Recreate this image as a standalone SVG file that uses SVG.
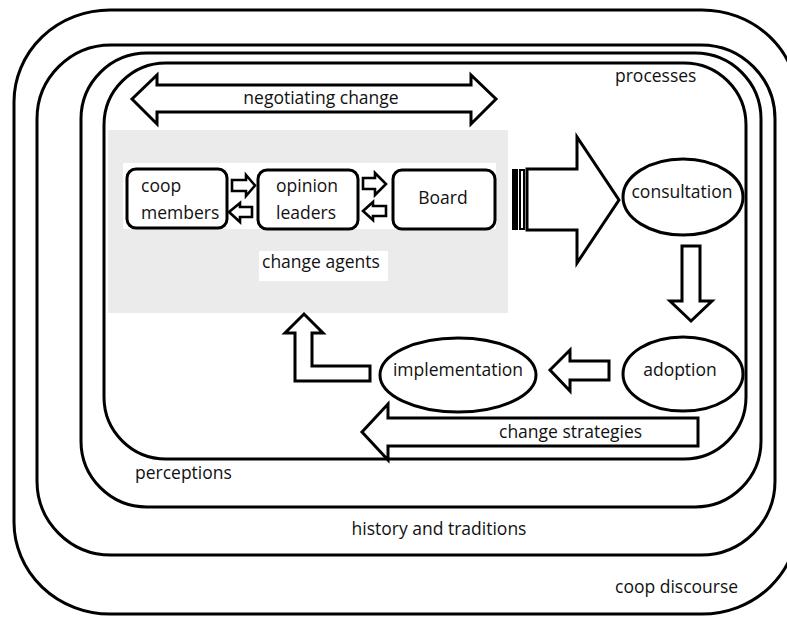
<svg xmlns="http://www.w3.org/2000/svg" width="787" height="617" viewBox="0 0 787 617">
<style>
.frame{fill:none;stroke:#000;stroke-width:3}
.box{fill:#fff;stroke:#000;stroke-width:3}
.arr{fill:#fff;stroke:#000;stroke-width:3;stroke-linejoin:miter}
.sarr{fill:#fff;stroke:#000;stroke-width:2.6;stroke-linejoin:miter}
text{font-family:"Open Sans","Liberation Sans",sans-serif;font-size:17.5px;fill:#111}
.m{text-anchor:middle}
</style>
<rect width="787" height="617" fill="#fff"/>
<g id="frames">
<rect id="coop-discourse" class="frame" x="14" y="10" width="784" height="604" rx="96" ry="92"/>
<rect id="history" class="frame" x="37" y="45" width="738" height="510" rx="74"/>
<rect id="perceptions" class="frame" x="81" y="53" width="680" height="454" rx="66"/>
<rect id="processes" class="frame" x="104" y="63" width="642" height="396" rx="62"/>
</g>
<g id="change-agents">
<rect x="108" y="130" width="400" height="183" fill="#ebebeb"/>
<rect x="123" y="163" width="373" height="66" fill="#fff"/>
<rect x="259" y="251" width="129" height="30" fill="#fff"/>
<text x="262" y="268">change agents</text>
</g>
<g id="connectors">
<polygon class="arr" points="132,99 157,75 157,85 471,85 471,75 496,99 471,124 471,112 157,112 157,124"/>
<polygon class="sarr" points="232,180 246,180 246,175 255,185.5 246,196 246,191 232,191"/>
<polygon class="sarr" points="229,212 240,203 240,207 252,207 252,217 240,217 240,222"/>
<polygon class="sarr" points="363,178 375,178 375,173 386,184 375,195 375,189 363,189"/>
<polygon class="sarr" points="363,211 373,202 373,206 386,206 386,216 373,216 373,220"/>
<g id="striped-arrow">
<rect x="512" y="169" width="6" height="61" fill="#000"/>
<rect x="520" y="170" width="4" height="59" fill="#fff" stroke="#000" stroke-width="2"/>
<polygon class="arr" points="527,169 577,169 577,137 619,200 577,263 577,230 527,230"/>
</g>
<polygon class="arr" points="682,246 700,246 700,301 712,301 691,321 670,301 682,301"/>
<polygon class="arr" points="550,370 570,350 570,361 609,361 609,380 570,380 570,391"/>
<polygon class="arr" points="304,314 323,333 312,333 312,366 370,366 370,381 295,381 295,333 285,333"/>
<polygon class="arr" points="362,432 388,404 388,418 698,418 698,446 388,446 388,460"/>
</g>
<g id="labels">
<text class="m" x="321" y="104">negotiating change</text>
<text x="615" y="82">processes</text>
<text x="499" y="438">change strategies</text>
<text x="135" y="479">perceptions</text>
<text class="m" x="439" y="535">history and traditions</text>
<text x="615" y="593">coop discourse</text>
</g>
<g id="coop-members">
<rect class="box" x="127" y="169" width="100" height="59" rx="9"/>
<text x="141" y="192">coop</text>
<text x="141" y="219">members</text>
</g>
<g id="opinion-leaders">
<rect class="box" x="258" y="170" width="100" height="59" rx="9"/>
<text x="276" y="192">opinion</text>
<text x="276" y="219">leaders</text>
</g>
<g id="board">
<rect class="box" x="393" y="170" width="102" height="59" rx="9"/>
<text class="m" x="443" y="204">Board</text>
</g>
<g id="consultation">
<ellipse class="box" cx="683" cy="197" rx="60" ry="38"/>
<text class="m" x="682" y="198">consultation</text>
</g>
<g id="adoption">
<ellipse class="box" cx="683" cy="374" rx="60" ry="37"/>
<text class="m" x="680" y="376">adoption</text>
</g>
<g id="implementation">
<ellipse class="box" cx="458" cy="375" rx="78" ry="37"/>
<text class="m" x="458" y="376">implementation</text>
</g>
</svg>
